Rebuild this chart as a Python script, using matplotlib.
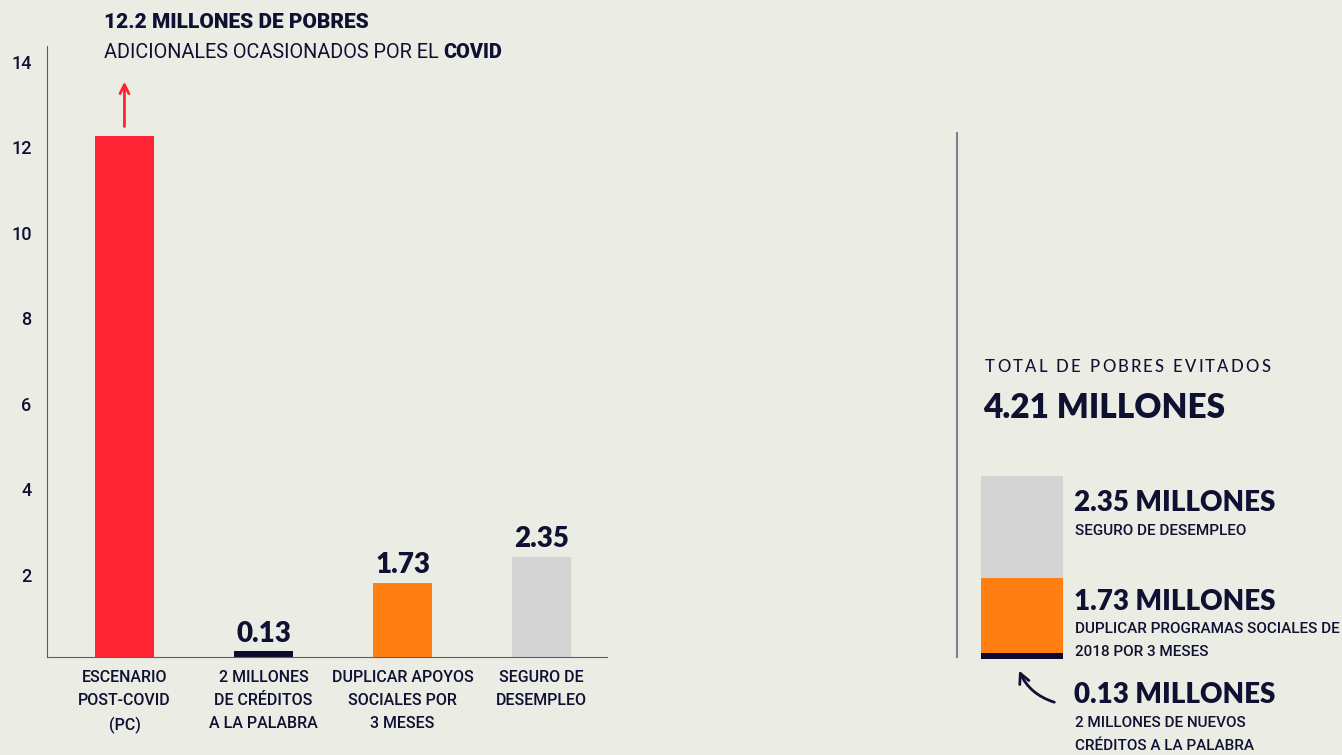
import matplotlib
matplotlib.use("Agg")
import matplotlib.pyplot as plt
import matplotlib.transforms as mtransforms
from matplotlib.lines import Line2D
from matplotlib.patches import FancyArrowPatch

# data
categories = ["ESCENARIO\nPOST-COVID\n(PC)", "2 MILLONES\nDE CRÉDITOS\nA LA PALABRA",
              "DUPLICAR APOYOS\nSOCIALES POR\n3 MESES", "SEGURO DE\nDESEMPLEO"]
values = [12.2, 0.13, 1.73, 2.35]
bar_colors = ["#ff2433", "#0a0a2e", "#ff7f12", "#d4d4d4"]
yticks = [2, 4, 6, 8, 10, 12, 14]

stack_values = [0.13, 1.73, 2.35]
stack_colors = ["#0a0a2e", "#ff7f12", "#d4d4d4"]
stack_titles = ["0.13 MILLONES", "1.73 MILLONES", "2.35 MILLONES"]
stack_notes = ["2 MILLONES DE NUEVOS\nCRÉDITOS A LA PALABRA",
               "DUPLICAR PROGRAMAS SOCIALES DE\n2018 POR 3 MESES",
               "SEGURO DE DESEMPLEO"]

BG = "#ebede4"
NAVY = "#0f1133"
W, H = 1342, 755

fig = plt.figure(figsize=(W / 100, H / 100), dpi=100, facecolor=BG)


def fx(px):
    return px / W


def fy(py):
    return 1 - py / H


def tracked_text(x0, y0, s, width, **kw):
    # draw text letter by letter so it spans the given pixel width
    renderer = fig.canvas.get_renderer()
    arts = [fig.text(0, fy(y0), ch, **kw) for ch in s]
    widths = []
    for a, ch in zip(arts, s):
        if ch == " ":
            widths.append(kw.get("fontsize", 12) * 100 / 72 * 0.3)
        else:
            widths.append(a.get_window_extent(renderer).width)
    gap = (width - sum(widths)) / (len(s) - 1)
    pos = x0
    for a, w in zip(arts, widths):
        a.set_x(fx(pos))
        pos += w + gap


# main bar chart
ax = fig.add_axes([fx(47), fy(657), fx(607) - fx(47), fy(46) - fy(657)])
ax.set_facecolor(BG)
x = range(len(values))
ax.bar(x, values, width=0.425, color=bar_colors)
ax.set_xlim(-0.557, 3.47)
ax.set_ylim(0, 14.3)
ax.set_yticks(yticks)
ax.set_yticklabels([str(t) for t in yticks], fontsize=13, color=NAVY, family="Roboto",
                   fontweight="medium")
ax.set_xticks(list(x))
ax.set_xticklabels(categories, fontsize=11.5, color=NAVY, family="Roboto",
                   fontweight="medium", linespacing=1.68)
ax.tick_params(axis="y", length=0, pad=11)
ax.tick_params(axis="x", length=0, pad=9)
shift = mtransforms.ScaledTranslation(0, -3 / 100, fig.dpi_scale_trans)
for lab in ax.get_yticklabels():
    lab.set_transform(lab.get_transform() + shift)
for s in ["top", "right"]:
    ax.spines[s].set_visible(False)
ax.spines["left"].set_color("#5a5e6a")
ax.spines["bottom"].set_color("#5a5e6a")

for i, v in enumerate(values):
    if i == 0:
        ax.annotate("", xy=(i, v + 1.33), xytext=(i, v + 0.15),
                    arrowprops=dict(arrowstyle="->", color="#ff2433", lw=2,
                                    mutation_scale=16))
    else:
        ax.annotate(f"{v}", xy=(i, v), xytext=(0, 7), textcoords="offset points",
                    ha="center", va="baseline", fontsize=20, fontweight="heavy",
                    color=NAVY, family="Lato")

# title
fig.text(fx(104), fy(22), "12.2 MILLONES DE POBRES", fontsize=15, fontweight="heavy",
         color=NAVY, family="Roboto", va="center")
t1 = fig.text(fx(104), fy(53), "ADICIONALES OCASIONADOS POR EL ", fontsize=14.3,
              color=NAVY, family="Roboto", va="center")
fig.canvas.draw()
ax.annotate("COVID", xy=(1, 0.5), xycoords=t1, va="center", ha="left",
            fontsize=14.3, fontweight="heavy", color=NAVY, family="Roboto",
            annotation_clip=False)

# divider
fig.add_artist(Line2D([fx(957), fx(957)], [fy(133), fy(657)], color="#7d828c", lw=1.5))

# right panel
tracked_text(985, 367, "TOTAL DE POBRES EVITADOS", 285, fontsize=12, color=NAVY,
             family="Lato", fontweight="medium", va="center")
fig.text(fx(983), fy(408), "4.21 MILLONES", fontsize=24, fontweight="heavy",
         color=NAVY, family="Lato", va="center")

ax2 = fig.add_axes([fx(981), fy(659), fx(1063) - fx(981), fy(476) - fy(659)])
ax2.set_xlim(-0.5, 0.5)
ax2.set_ylim(0, sum(stack_values))
bottom = 0
for v, c in zip(stack_values, stack_colors):
    ax2.bar(0, v, width=1, bottom=bottom, color=c)
    bottom += v
ax2.axis("off")

title_y = [695, 602, 503]
note_y = [724, 630, 532]
for t, n, ty, ny in zip(stack_titles, stack_notes, title_y, note_y):
    fig.text(fx(1074), fy(ty), t, fontsize=20, fontweight="heavy", color=NAVY,
             family="Lato", va="center")
    fig.text(fx(1075), fy(ny - 8), n, fontsize=11, color=NAVY, family="Roboto",
             fontweight="medium", va="top", linespacing=1.85)

# curved arrow to the thin navy block
fig.add_artist(FancyArrowPatch(
    (fx(1057), fy(703)), (fx(1018), fy(668)), transform=fig.transFigure,
    connectionstyle="arc3,rad=-0.25", arrowstyle="->", mutation_scale=18,
    color=NAVY, lw=2))

fig.savefig("out.png", dpi=100, facecolor=BG)
